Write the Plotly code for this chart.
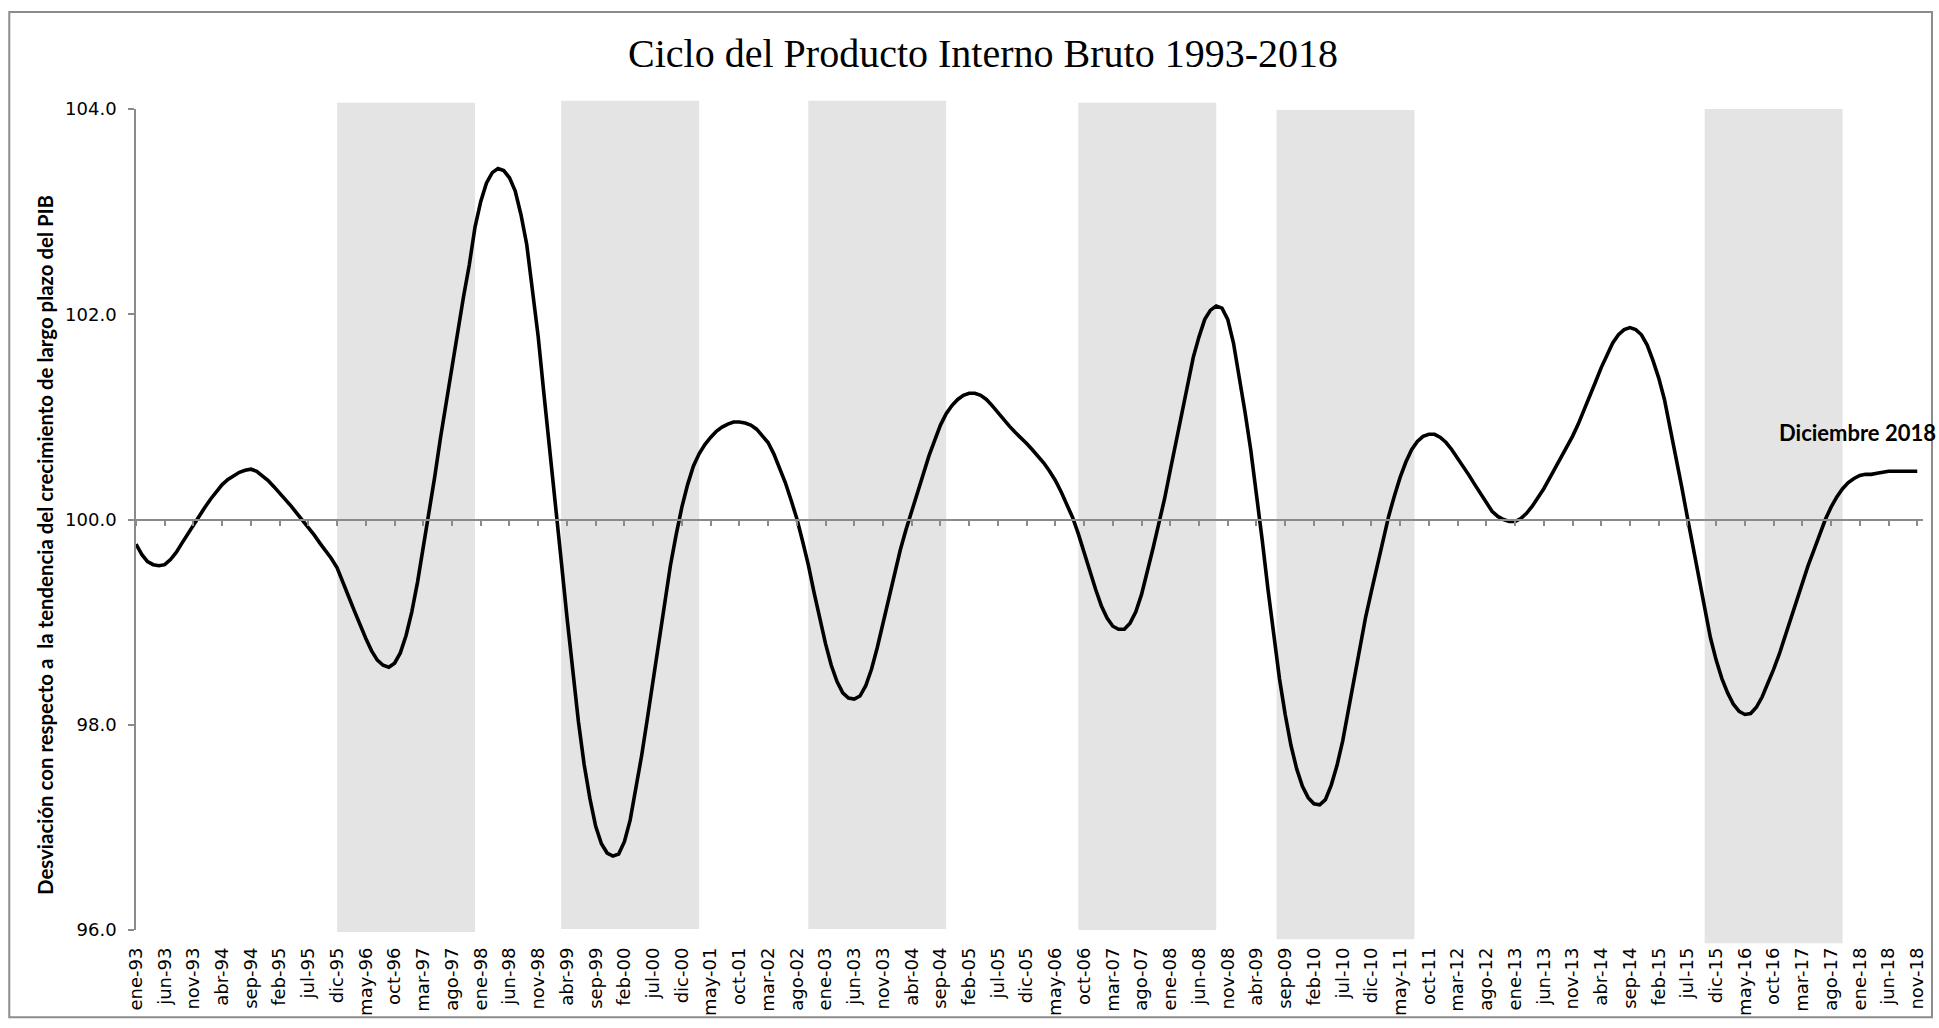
import plotly.graph_objects as go

# Monthly cycle values, ene-93 .. nov-18 (one row per year)
pib_ciclo = [
    99.76, 99.66, 99.59, 99.56, 99.55, 99.56, 99.61, 99.68, 99.77, 99.86, 99.95, 100.04,
    100.12, 100.20, 100.27, 100.34, 100.39, 100.43, 100.46, 100.48, 100.49, 100.47, 100.43, 100.38,
    100.32, 100.26, 100.19, 100.13, 100.06, 99.99, 99.93, 99.85, 99.77, 99.70, 99.62, 99.53,
    99.40, 99.25, 99.11, 98.97, 98.84, 98.72, 98.63, 98.58, 98.56, 98.60, 98.70, 98.87,
    99.10, 99.39, 99.72, 100.05, 100.42, 100.80, 101.15, 101.48, 101.82, 102.17, 102.48, 102.85,
    103.10, 103.28, 103.38, 103.42, 103.40, 103.33, 103.20, 102.97, 102.68, 102.20, 101.78, 101.22,
    100.65, 100.12, 99.60, 99.05, 98.51, 98.03, 97.61, 97.28, 97.01, 96.84, 96.75, 96.72,
    96.74, 96.86, 97.07, 97.38, 97.70, 98.06, 98.44, 98.84, 99.22, 99.55, 99.85, 100.12,
    100.34, 100.52, 100.64, 100.73, 100.80, 100.86, 100.90, 100.93, 100.95, 100.95, 100.94, 100.92,
    100.88, 100.82, 100.75, 100.64, 100.51, 100.36, 100.19, 100.01, 99.79, 99.56, 99.29, 99.03,
    98.79, 98.58, 98.42, 98.31, 98.26, 98.25, 98.28, 98.38, 98.54, 98.75, 98.99, 99.25,
    99.48, 99.70, 99.90, 100.08, 100.27, 100.45, 100.62, 100.77, 100.92, 101.03, 101.11, 101.17,
    101.21, 101.23, 101.23, 101.21, 101.17, 101.11, 101.04, 100.97, 100.91, 100.85, 100.80, 100.74,
    100.68, 100.62, 100.55, 100.47, 100.38, 100.27, 100.15, 100.02, 99.86, 99.69, 99.50, 99.32,
    99.16, 99.04, 98.96, 98.93, 98.93, 98.99, 99.10, 99.27, 99.48, 99.72, 99.96, 100.20,
    100.48, 100.76, 101.05, 101.32, 101.58, 101.78, 101.95, 102.04, 102.08, 102.06, 101.95, 101.72,
    101.40, 101.05, 100.68, 100.25, 99.80, 99.32, 98.86, 98.45, 98.10, 97.80, 97.57, 97.40,
    97.29, 97.23, 97.22, 97.27, 97.41, 97.60, 97.84, 98.14, 98.47, 98.77, 99.05, 99.30,
    99.55, 99.80, 100.03, 100.23, 100.41, 100.56, 100.68, 100.76, 100.81, 100.83, 100.83, 100.80,
    100.75, 100.68, 100.60, 100.52, 100.43, 100.34, 100.25, 100.16, 100.08, 100.03, 100.00, 99.98,
    99.98, 100.01, 100.06, 100.13, 100.21, 100.30, 100.40, 100.50, 100.60, 100.70, 100.81, 100.93,
    101.06, 101.20, 101.34, 101.48, 101.61, 101.72, 101.80, 101.85, 101.87, 101.85, 101.80, 101.70,
    101.55, 101.38, 101.17, 100.90, 100.62, 100.32, 100.02, 99.72, 99.41, 99.11, 98.85, 98.63,
    98.45, 98.31, 98.20, 98.13, 98.10, 98.11, 98.17, 98.27, 98.40, 98.54, 98.69, 98.86,
    99.03, 99.21, 99.39, 99.55, 99.70, 99.85, 100.00, 100.12, 100.22, 100.30, 100.36, 100.40,
    100.43, 100.44, 100.44, 100.45, 100.46, 100.47, 100.47, 100.47, 100.47, 100.47, 100.47,
]

tick_labels = [
    "ene-93", "jun-93", "nov-93", "abr-94", "sep-94", "feb-95", "jul-95", "dic-95",
    "may-96", "oct-96", "mar-97", "ago-97", "ene-98", "jun-98", "nov-98", "abr-99",
    "sep-99", "feb-00", "jul-00", "dic-00", "may-01", "oct-01", "mar-02", "ago-02",
    "ene-03", "jun-03", "nov-03", "abr-04", "sep-04", "feb-05", "jul-05", "dic-05",
    "may-06", "oct-06", "mar-07", "ago-07", "ene-08", "jun-08", "nov-08", "abr-09",
    "sep-09", "feb-10", "jul-10", "dic-10", "may-11", "oct-11", "mar-12", "ago-12",
    "ene-13", "jun-13", "nov-13", "abr-14", "sep-14", "feb-15", "jul-15", "dic-15",
    "may-16", "oct-16", "mar-17", "ago-17", "ene-18", "jun-18", "nov-18",
]

# Shaded periods (month index start/end) and their vertical extent
band_start = [35, 74, 117, 164, 198.5, 273]
band_end = [59, 98, 141, 188, 222.5, 297]
band_top = [104.06, 104.08, 104.08, 104.06, 103.99, 104.00]
band_bottom = [95.98, 96.01, 96.01, 96.00, 95.91, 95.87]

Y_MIN, Y_MAX = 96.0, 104.0
y_ticks = [96.0, 98.0, 100.0, 102.0, 104.0]
y_title = "Desviación con respecto a  la tendencia del crecimiento de largo plazo del PIB"
chart_title = "Ciclo del Producto Interno Bruto 1993-2018"
note_text = "Diciembre 2018"
note_value = 100.85

months = list(range(len(pib_ciclo)))
tick_pos = months[::5]
x_range = [0, len(pib_ciclo)]

W, H = 1939, 1028
ML, MR, MT, MB = 136, 12, 109, 90
PW, PH = W - ML - MR, H - MT - MB


def py(v):
    return (v - Y_MIN) / (Y_MAX - Y_MIN)


def px_x(p):
    return (p - ML) / PW


def px_y(p):
    return (H - MB - p) / PH


AXIS_GRAY = "#8a8a8a"

fig = go.Figure()

for s, e, t, b in zip(band_start, band_end, band_top, band_bottom):
    fig.add_shape(type="rect", xref="x", yref="paper", x0=s, x1=e,
                  y0=py(b), y1=py(t), fillcolor="#e4e4e4",
                  line=dict(width=0), layer="below")

# outer frame
fig.add_shape(type="rect", xref="paper", yref="paper",
              x0=px_x(9), x1=px_x(1936), y0=px_y(1026), y1=px_y(11),
              line=dict(color="#8c8c8c", width=2), fillcolor="rgba(0,0,0,0)")

fig.add_trace(go.Scatter(x=months, y=pib_ciclo, mode="lines",
                         line=dict(color="#000000", width=3.6),
                         hoverinfo="skip", showlegend=False))

# invisible trace to carry the axis drawn at 100
fig.add_trace(go.Scatter(x=[months[0]], y=[100.0], xaxis="x2", mode="lines",
                         line=dict(width=0), hoverinfo="skip", showlegend=False))

fig.update_layout(
    width=W, height=H,
    margin=dict(l=ML, r=MR, t=MT, b=MB, pad=0),
    paper_bgcolor="white", plot_bgcolor="rgba(0,0,0,0)",
    title=dict(text=chart_title,
               font=dict(family="Liberation Serif", size=40, color="#000000"),
               x=983 / W, xref="container", xanchor="center",
               y=1 - 53 / H, yref="container", yanchor="middle"),
    xaxis=dict(range=x_range, tickvals=tick_pos, ticktext=tick_labels,
               tickangle=-90, showline=False, ticks="", showgrid=False,
               zeroline=False, ticklabelstandoff=13,
               tickfont=dict(family="DejaVu Sans", size=18, color="#000000")),
    xaxis2=dict(range=x_range, overlaying="x", anchor="free", position=py(100.0),
                side="bottom", tickvals=tick_pos, showticklabels=False,
                ticks="outside", ticklen=6, tickcolor=AXIS_GRAY, tickwidth=1.5,
                showline=True, linecolor=AXIS_GRAY, linewidth=1.5,
                showgrid=False, zeroline=False),
    yaxis=dict(range=[Y_MIN, Y_MAX], tickvals=y_ticks, tickformat=".1f",
               ticks="outside", ticklen=6, tickcolor=AXIS_GRAY, tickwidth=1.5,
               showline=True, linecolor=AXIS_GRAY, linewidth=1.5,
               showgrid=False, zeroline=False, ticklabelstandoff=8,
               tickfont=dict(family="DejaVu Sans", size=18, color="#000000")),
    annotations=[
        dict(text="<b>" + y_title + "</b>", xref="paper", yref="paper",
             x=px_x(45), y=px_y(549), xanchor="center", yanchor="middle",
             textangle=-90, showarrow=False,
             font=dict(family="Lato", size=20.4, color="#000000")),
        dict(text="<b>" + note_text + "</b>", xref="paper", yref="y",
             x=px_x(1942), y=note_value, xanchor="right", yanchor="middle",
             showarrow=False,
             font=dict(family="Lato", size=22, color="#000000")),
    ],
)

fig.write_html("out.html", config={"displayModeBar": False},
               post_script="document.body.style.margin='0';document.body.style.overflow='hidden';")
